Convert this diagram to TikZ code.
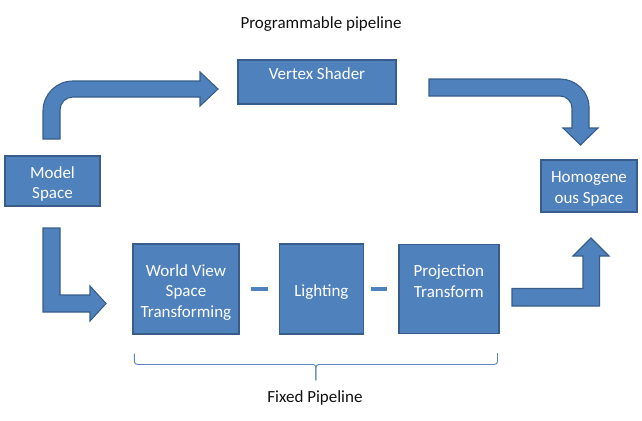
\documentclass[tikz,border=0pt]{standalone}
\usepackage{fontspec}
\setmainfont{Carlito}
\usepackage{xcolor}
\usepackage{tikz}
\usetikzlibrary{positioning,calc}
\definecolor{PPfill}{HTML}{4F81BD}
\definecolor{PPedge}{HTML}{385D8A}
\definecolor{PPbrace}{HTML}{5A86BE}
\definecolor{PPink}{HTML}{101010}
\newcommand{\ppfont}{\fontsize{17}{20.5}\selectfont}
\tikzset{
  stagebox/.style={rectangle, draw=PPedge, fill=PPfill, line width=1.4pt, inner sep=0pt},
  stagetext/.style={align=center, font=\ppfont, text=white, inner sep=0pt},
  blockarr/.style={fill=PPfill, draw=PPedge, line width=1.1pt, line join=miter},
  dashlink/.style={draw=PPfill, line width=4.5pt},
  caption/.style={font=\ppfont, text=PPink, inner sep=0pt},
  bracefix/.style={draw=PPbrace, line width=0.9pt, rounded corners=3pt}
}

\begin{document}
\begin{tikzpicture}[x=1pt, y=-1pt]
      \useasboundingbox (0,0) rectangle (642,420);
      % stages
      \node[stagebox, minimum width=95pt, minimum height=50pt] (model) at (52.5,181) {};
      \node[stagetext] (modeltxt) at ($(model.center)+(0,3)$) {Model\\Space};
      \node[stagebox, minimum width=158pt, minimum height=44pt] (vertex) at (317,82) {};
      \node[stagetext] (vertextxt) at ($(vertex.center)+(0,-8)$) {Vertex Shader};
      \node[stagebox, minimum width=96pt, minimum height=52pt] (homog) at (589,186) {};
      \node[stagetext] (homogtxt) at ($(homog.center)+(0,3)$) {Homogene\\ous Space};
      \node[stagebox, minimum width=106pt, minimum height=90pt] (world) at (186,289) {};
      \node[stagetext] (worldtxt) at ($(world.center)+(0,3.5)$) {World View\\Space\\Transforming};
      \node[stagebox, minimum width=84pt, minimum height=90pt, right=39pt of world] (light) {};
      \node[stagetext] (lighttxt) at ($(light.center)+(0,3)$) {Lighting};
      \node[stagebox, minimum width=100pt, minimum height=89pt, right=34pt of light] (proj) {};
      \node[stagetext] (projtxt) at ($(proj.center)+(0,-8)$) {Projection\\Transform};
      \draw[dashlink, shorten <=11pt, shorten >=11pt] (world) -- (light);
      \draw[dashlink, shorten <=7pt, shorten >=11pt] (light) -- (proj);
      % block arrows
      \path[blockarr] (43,139) -- (43,111) .. controls (43,94.4) and (56.4,81) .. (73,81)
        -- (200,81) -- (200,72) -- (218,89) -- (200,106) -- (200,97) -- (73,97)
        .. controls (65.8,97) and (60,102.8) .. (60,110) -- (60,139) -- cycle;
      \path[blockarr] (429,79) -- (560,79) .. controls (575.5,79) and (589,91.5) .. (589,107)
        -- (589,128) -- (598,128) -- (580.5,145) -- (563,128) -- (572,128) -- (572,108)
        .. controls (572,101.4) and (566.6,96) .. (560,96) -- (429,96) -- cycle;
      \path[blockarr] (43,228) -- (43,312) -- (90,312) -- (90,321) -- (106,303.5)
        -- (90,286) -- (90,295) -- (60,295) -- (60,228) -- cycle;
      \path[blockarr] (512,306) -- (599.5,306) -- (599.5,256) -- (609,256) -- (591,238)
        -- (573,256) -- (583,256) -- (583,288.5) -- (512,288.5) -- cycle;
      % captions and brace
      \node[caption] (progcap) at (321,24) {Programmable pipeline};
      \coordinate (braceL) at ($(world.south west)+(2,19)$);
      \coordinate (braceR) at ($(proj.south east)+(-2,19)$);
      \coordinate (braceM) at ($(braceL)!0.5!(braceR)+(0,11)$);
      \coordinate (braceT) at ($(braceM)+(0,16)$);
      \draw[bracefix] (braceL) |- (braceM) -- (braceT);
      \draw[bracefix] (braceR) |- (braceM) -- (braceT);
      \node[caption] (fixcap) at (315,398) {Fixed Pipeline};
    \end{tikzpicture}
\end{document}
